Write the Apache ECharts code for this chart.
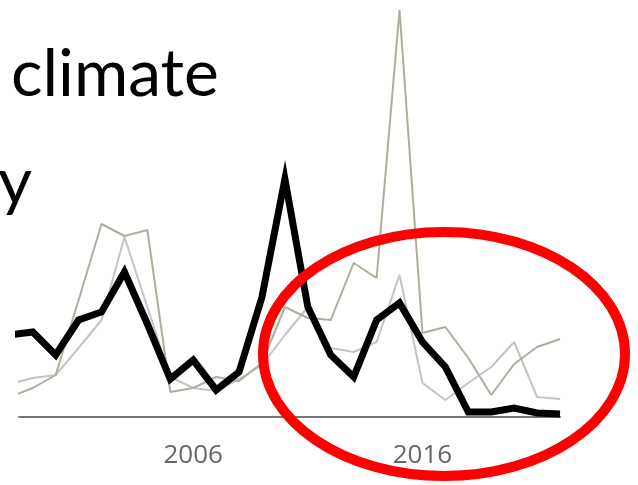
<!DOCTYPE html>
<html>
<head>
<meta charset="utf-8">
<script src="https://cdn.jsdelivr.net/npm/echarts@6.0.0/dist/echarts.min.js"></script>
<style>
  html, body { margin: 0; padding: 0; background: #FFFFFF; }
  #chart { width: 638px; height: 485px; }
</style>
</head>
<body>
<div id="chart"></div>
<script>
  // years shown (1998 is cut off at the left edge, like in the slide)
  var years = [1998, 1999, 2000, 2001, 2002, 2003, 2004, 2005, 2006, 2007, 2008, 2009, 2010,
    2011, 2012, 2013, 2014, 2015, 2016, 2017, 2018, 2019, 2020, 2021, 2022]
  // main series (thick black)
  var mainValues = [82, 85, 62, 97, 105, 145, 93, 38, 57, 27, 45, 120, 238,
    110, 62, 40, 97, 114, 75, 50, 5, 5, 9, 4, 3]
  // greenish grey comparison line
  var greenValues = [20, 29, 42, 117, 193, 181, 187, 25, 29, 40, 36, 54, 110,
    99, 97, 154, 139, 407, 84, 90, 59, 22, 53, 70, 78]
  // light grey comparison line
  var greyValues = [33, 39, 42, 69, 97, 180, 110, 40, 29, 26, 38, 52, 82,
    110, 69, 65, 75, 142, 34, 17, 34, 50, 75, 20, 18]
  var labelYears = [2006, 2016]

  function pairs(vals) {
    var out = []
    for (var i = 0; i < years.length; i++) {
      out.push([years[i], vals[i]])
    }
    return out
  }

  var chart = echarts.init(document.getElementById('chart'))
  chart.setOption({
    animation: false,
    backgroundColor: '#FFFFFF',
    grid: {left: 19, right: 78, top: 7, bottom: 68},
    xAxis: {
      type: 'value',
      min: 1998.4,
      max: 2022,
      splitLine: {show: false},
      axisTick: {show: false},
      axisLine: {show: true, onZero: false, lineStyle: {color: '#767676', width: 2}},
      axisLabel: {
        customValues: labelYears,
        color: '#666666',
        fontFamily: 'Open Sans',
        fontSize: 26,
        margin: 26,
        formatter: function (v) { return String(v) }
      }
    },
    yAxis: {
      type: 'value',
      min: 0,
      max: 410,
      show: false
    },
    series: [
      {
        type: 'line', name: 'grey', data: pairs(greyValues), symbol: 'none',
        lineStyle: {color: '#c4c4c4', width: 2}, z: 2
      },
      {
        type: 'line', name: 'green', data: pairs(greenValues), symbol: 'none',
        lineStyle: {color: '#a6b39c', width: 2}, z: 3
      },
      {
        type: 'line', name: 'main', data: pairs(mainValues), symbol: 'none',
        lineStyle: {color: '#000000', width: 7, join: 'miter'}, z: 4
      }
    ],
    graphic: [
      // leftover slide text around the chart
      {
        type: 'text', left: 11, top: 42, z: 10,
        style: {text: 'climate', font: '66px Lato', fill: '#000000'}
      },
      {
        type: 'text', left: -2, top: 150, z: 10,
        style: {text: 'y', font: '66px Lato', fill: '#000000'}
      },
      {
        type: 'ellipse', z: 20,
        shape: {cx: 444, cy: 354, rx: 181, ry: 122},
        style: {fill: 'none', stroke: '#ff0000', lineWidth: 10}
      }
    ]
  })
</script>
</body>
</html>
